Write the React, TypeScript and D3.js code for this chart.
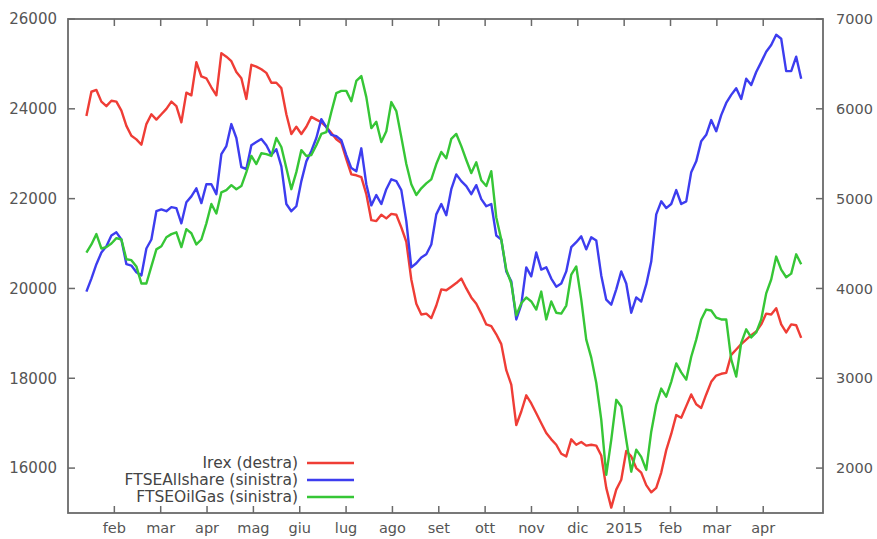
import React from 'react';
import * as d3 from 'd3';

const monthLabels = ['feb', 'mar', 'apr', 'mag', 'giu', 'lug', 'ago', 'set', 'ott', 'nov', 'dic', '2015', 'feb', 'mar', 'apr'];
const leftTicks = [16000, 18000, 20000, 22000, 24000, 26000];
const rightTicks = [2000, 3000, 4000, 5000, 6000, 7000];

// observations: start (in months from 1 Jan 2014) and spacing
const firstObs = 0.397;
const obsStep = 0.10785;

const irex = [
  5920, 6190, 6210, 6080, 6030, 6090, 6080, 5980, 5810, 5700,
  5660, 5600, 5830, 5940, 5880, 5940, 6000, 6080, 6030, 5850,
  6180, 6150, 6520, 6360, 6340, 6240, 6150, 6620, 6580, 6530,
  6410, 6340, 6110, 6490, 6470, 6440, 6400, 6290, 6290, 6230,
  5940, 5720, 5800, 5720, 5800, 5910, 5880, 5850, 5800, 5730,
  5660, 5620, 5440, 5270, 5260, 5240, 5050, 4760, 4750, 4820,
  4780, 4830, 4820, 4680, 4520, 4100, 3830, 3710, 3720, 3670,
  3810, 3990, 3980, 4020, 4060, 4110, 4000, 3900, 3830, 3720,
  3600, 3580, 3490, 3380, 3090, 2930, 2480, 2630, 2810, 2720,
  2610, 2500, 2390, 2320, 2260, 2160, 2130, 2320, 2260, 2290,
  2250, 2260, 2250, 2140, 1780, 1560, 1760, 1870, 2190, 2130,
  2000, 1950, 1810, 1730, 1780, 1950, 2200, 2380, 2590, 2560,
  2690, 2820, 2710, 2670, 2820, 2960, 3030, 3050, 3060, 3260,
  3320, 3380, 3430, 3480, 3520, 3600, 3720, 3710, 3780, 3600,
  3510, 3600, 3590, 3450,
];

const ftseAllshare = [
  19930, 20220, 20540, 20800, 20940, 21180, 21250, 21090, 20540, 20510,
  20360, 20290, 20890, 21090, 21720, 21760, 21720, 21810, 21790, 21450,
  21920, 22050, 22230, 21900, 22320, 22320, 22100, 22990, 23170, 23660,
  23350, 22700, 22660, 23190, 23260, 23330, 23190, 22970, 23100, 22720,
  21880, 21720, 21830, 22390, 22830, 23060, 23350, 23770, 23590, 23420,
  23390, 23300, 22970, 22680, 22610, 23120, 22320, 21850, 22080, 21880,
  22210, 22430, 22390, 22190, 21500, 20470, 20560, 20690, 20760, 20980,
  21650, 21880, 21630, 22210, 22540, 22390, 22280, 22100, 22300, 21990,
  21830, 21880, 21180, 21090, 20380, 20160, 19310, 19640, 20470, 20270,
  20800, 20420, 20470, 20220, 20040, 20110, 20380, 20920, 21030, 21160,
  20870, 21140, 21070, 20290, 19750, 19640, 19980, 20380, 20110, 19460,
  19800, 19710, 20090, 20600, 21650, 21940, 21790, 21880, 22190, 21880,
  21940, 22590, 22830, 23280, 23420, 23750, 23500, 23860, 24130, 24310,
  24460, 24220, 24670, 24530, 24820, 25040, 25270, 25420, 25650, 25560,
  24840, 24840, 25160, 24670,
];

const ftseOilGas = [
  20800, 20980, 21210, 20890, 20920, 21000, 21120, 21090, 20650, 20630,
  20490, 20110, 20110, 20490, 20870, 20940, 21140, 21210, 21250, 20920,
  21320, 21230, 20980, 21090, 21450, 21880, 21670, 22140, 22190, 22300,
  22210, 22280, 22590, 22950, 22770, 23010, 22990, 22950, 23350, 23150,
  22680, 22210, 22590, 23080, 22950, 22970, 23190, 23440, 23480, 23930,
  24350, 24400, 24400, 24170, 24620, 24730, 24260, 23570, 23710, 23260,
  23500, 24150, 23950, 23370, 22770, 22320, 22080, 22230, 22340, 22430,
  22770, 23040, 22900, 23330, 23440, 23170, 22860, 22570, 22810, 22410,
  22280, 22610, 21580, 21090, 20420, 20110, 19400, 19670, 19800, 19710,
  19530, 19930, 19310, 19710, 19460, 19440, 19620, 20310, 20490, 19750,
  18860, 18460, 17900, 17080, 15850, 16630, 17520, 17370, 16630, 15920,
  16410, 16250, 15960, 16810, 17410, 17770, 17590, 17920, 18330, 18130,
  17970, 18480, 18860, 19310, 19530, 19510, 19350, 19310, 19310, 18420,
  18040, 18790, 19090, 18910, 19020, 19310, 19890, 20200, 20710, 20420,
  20250, 20330, 20760, 20540,
];

const seriesNames = ['Irex (destra)', 'FTSEAllshare (sinistra)', 'FTSEOilGas (sinistra)'];
const seriesColors = ['#ef3d36', '#3d3def', '#36c636'];

export default function App() {
  const W = 877, H = 539;
  const L = 68, R = 823, T = 19, B = 513;
  const x = d3.scaleLinear().domain([0, 16.29]).range([L, R]);
  const yL = d3.scaleLinear().domain([15000, 26000]).range([B, T]);
  const yR = d3.scaleLinear().domain([1500, 7000]).range([B, T]);

  const mkLine = (y: d3.ScaleLinear<number, number>) =>
    d3.line<number>().x((_, i) => x(firstObs + i * obsStep)).y((d) => y(d));

  const paths = [
    { d: mkLine(yR)(irex), c: seriesColors[0] },
    { d: mkLine(yL)(ftseAllshare), c: seriesColors[1] },
    { d: mkLine(yL)(ftseOilGas), c: seriesColors[2] },
  ];

  const axisColor = '#6a6a6a';
  const textColor = '#555';
  const font = 'DejaVu Sans, Verdana, sans-serif';
  const tickLen = 7;

  const legendRight = 298;
  const legendY = [463, 480, 497];

  return (
    <svg width={W} height={H} style={{ position: 'absolute', left: 0, top: 0, background: '#fff' }} fontFamily={font}>
      <rect x={0} y={0} width={W} height={H} fill="#fff" />
      {monthLabels.map((lab, i) => {
        const xx = x(i + 1);
        return (
          <g key={'m' + i}>
            <line x1={xx} x2={xx} y1={B} y2={B - tickLen} stroke={axisColor} strokeWidth={1.5} />
            <line x1={xx} x2={xx} y1={T} y2={T + tickLen} stroke={axisColor} strokeWidth={1.5} />
            <text x={xx} y={533} textAnchor="middle" fontSize={14.5} fill={textColor}>{lab}</text>
          </g>
        );
      })}
      {leftTicks.map((v) => (
        <g key={'l' + v}>
          <line x1={L} x2={L + tickLen} y1={yL(v)} y2={yL(v)} stroke={axisColor} strokeWidth={1.5} />
          <text x={57} y={yL(v)} dy="0.35em" textAnchor="end" fontSize={15} fill={textColor}>{v}</text>
        </g>
      ))}
      {rightTicks.map((v) => (
        <g key={'r' + v}>
          <line x1={R} x2={R - tickLen} y1={yR(v)} y2={yR(v)} stroke={axisColor} strokeWidth={1.5} />
          <text x={836} y={yR(v)} dy="0.35em" textAnchor="start" fontSize={14.5} fill={textColor}>{v}</text>
        </g>
      ))}
      {paths.map((p, i) => (
        <path key={'p' + i} d={p.d || ''} fill="none" stroke={p.c} strokeWidth={2.4} strokeLinejoin="round" />
      ))}
      <rect x={L} y={T} width={R - L} height={B - T} fill="none" stroke={axisColor} strokeWidth={1.8} />
      {seriesNames.map((n, i) => (
        <g key={'lg' + i}>
          <text x={legendRight} y={legendY[i]} dy="0.35em" textAnchor="end" fontSize={15.5} fill="#444">{n}</text>
          <line x1={307} x2={354} y1={legendY[i]} y2={legendY[i]} stroke={seriesColors[i]} strokeWidth={2.4} />
        </g>
      ))}
    </svg>
  );
}
